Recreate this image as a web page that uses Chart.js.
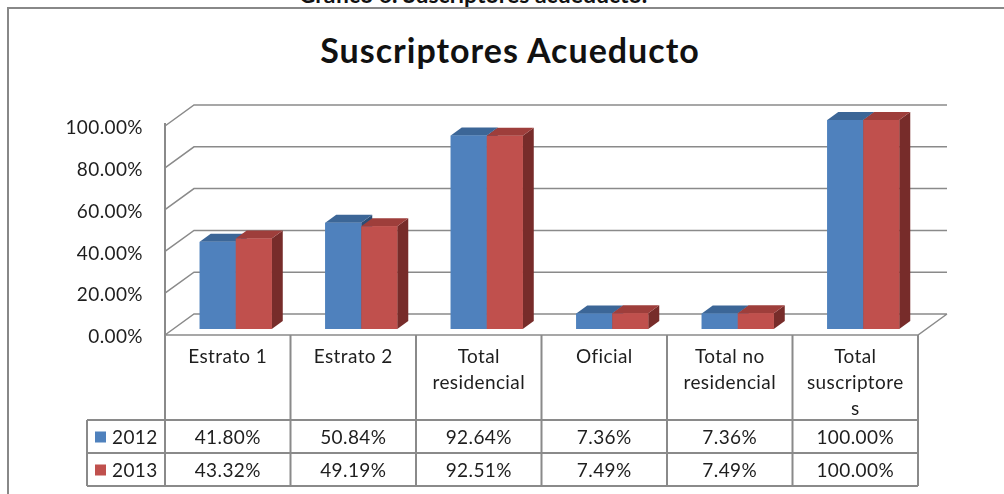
<!DOCTYPE html>
<html>
<head>
<meta charset="utf-8">
<title>Suscriptores Acueducto</title>
<script src="https://cdn.jsdelivr.net/npm/chart.js@4/dist/chart.umd.min.js"></script>
<style>
  html, body { margin: 0; padding: 0; background: #fff; overflow: hidden; }
  #wrap { position: relative; width: 1004px; height: 494px; overflow: hidden; }
  #frame { position: absolute; left: 7px; top: 7px; width: 1010px; height: 500px;
           border-top: 2px solid #888; border-left: 2px solid #888; }
  #caption { position: absolute; left: 0; width: 946px; top: -20px; line-height: 24px;
             text-align: center; font: bold 23px Lato, sans-serif; color: #111; }
  #title { position: absolute; left: 10px; width: 1000px; top: 29px; line-height: 40px;
           text-align: center; font: bold 34px Lato, sans-serif; letter-spacing: 1px; color: #111; }
  canvas { position: absolute; left: 0; top: 0; }
</style>
</head>
<body>
<div id="wrap">
  <div id="frame"></div>
  <div id="caption">Gráfico 6. Suscriptores acueducto.</div>
  <div id="title">Suscriptores Acueducto</div>
  <canvas id="chart" width="1004" height="494"></canvas>
</div>
<script>
const categories = [
  ['Estrato 1'],
  ['Estrato 2'],
  ['Total', 'residencial'],
  ['Oficial'],
  ['Total no', 'residencial'],
  ['Total', 'suscriptore', 's']
];
const seriesNames = ['2012', '2013'];
const values2012 = [41.80, 50.84, 92.64, 7.36, 7.36, 100.00];
const values2013 = [43.32, 49.19, 92.51, 7.49, 7.49, 100.00];
const yTicks = [0, 20, 40, 60, 80, 100];

const colors = [
  { front: '#4F81BD', top: '#3C6697', side: '#2C4D75' },
  { front: '#C0504D', top: '#9E3E3B', side: '#772C2A' }
];

// 3d offsets relative to the bar plane
const FRONT = [-8, 6];
const BACK = [21, -15];
const BAR = [11, -8];

const TEXT = '#1e1e1e';
const LINE = '#8a8a8a';
const FONT = '19px Lato, sans-serif';

function pct(v) { return v.toFixed(2) + '%'; }

function poly(ctx, pts, fill) {
  ctx.beginPath();
  ctx.moveTo(pts[0][0], pts[0][1]);
  for (let i = 1; i < pts.length; i++) ctx.lineTo(pts[i][0], pts[i][1]);
  ctx.closePath();
  ctx.fillStyle = fill;
  ctx.fill();
}

const walls = {
  id: 'walls',
  beforeDatasetsDraw(chart) {
    const ctx = chart.ctx;
    const a = chart.chartArea;
    const y = chart.scales.y;
    const x = chart.scales.x;
    const y0 = y.getPixelForValue(0);
    const yTop = y.getPixelForValue(yTicks[yTicks.length - 1]);

    ctx.save();
    ctx.strokeStyle = LINE;
    ctx.lineWidth = 1.5;

    // gridlines on side and back walls
    ctx.beginPath();
    yTicks.forEach(v => {
      const py = y.getPixelForValue(v);
      ctx.moveTo(a.left + FRONT[0], py + FRONT[1]);
      ctx.lineTo(a.left + BACK[0], py + BACK[1]);
      ctx.lineTo(a.right + BACK[0], py + BACK[1]);
    });
    // floor front and right edges
    ctx.moveTo(a.left + FRONT[0], y0 + FRONT[1]);
    ctx.lineTo(a.right + FRONT[0], y0 + FRONT[1]);
    ctx.lineTo(a.right + BACK[0], y0 + BACK[1]);
    ctx.stroke();

    ctx.letterSpacing = '0.4px';

    // y tick labels
    ctx.fillStyle = TEXT;
    ctx.font = FONT;
    ctx.textAlign = 'right';
    ctx.textBaseline = 'middle';
    yTicks.forEach(v => {
      ctx.fillText(pct(v), a.left + FRONT[0] - 22, y.getPixelForValue(v) + FRONT[1] + 2);
    });

    // data table
    const n = categories.length;
    const colW = (a.right - a.left) / n;
    const left = a.left + FRONT[0];
    const tTop = y0 + FRONT[1];
    const hBot = tTop + 85;
    const rowH = 33;
    const tBot = hBot + rowH * seriesNames.length;
    const legLeft = left - 78;
    const right = a.right + FRONT[0];

    ctx.lineWidth = 2;
    ctx.beginPath();
    ctx.moveTo(left, yTop + FRONT[1] - 3);
    ctx.lineTo(left, tBot);
    ctx.moveTo(legLeft, hBot);
    ctx.lineTo(right, hBot);
    for (let r = 1; r <= seriesNames.length; r++) {
      ctx.moveTo(legLeft, hBot + rowH * r);
      ctx.lineTo(right, hBot + rowH * r);
    }
    ctx.moveTo(legLeft, hBot);
    ctx.lineTo(legLeft, tBot);
    for (let i = 1; i <= n; i++) {
      const cx = left + colW * i;
      ctx.moveTo(cx, tTop);
      ctx.lineTo(cx, tBot);
    }
    ctx.stroke();

    ctx.textAlign = 'center';
    ctx.fillStyle = TEXT;
    categories.forEach((lines, i) => {
      const cx = x.getPixelForValue(i) + FRONT[0];
      lines.forEach((t, k) => ctx.fillText(t, cx, tTop + 22 + k * 26));
    });
    const series = [values2012, values2013];
    series.forEach((vals, r) => {
      const cy = hBot + rowH * r + rowH / 2 + 1;
      vals.forEach((v, i) => {
        ctx.fillText(pct(v), x.getPixelForValue(i) + FRONT[0], cy);
      });
      ctx.fillStyle = colors[r].front;
      ctx.fillRect(legLeft + 8, cy - 6, 11, 11);
      ctx.fillStyle = TEXT;
      ctx.textAlign = 'left';
      ctx.fillText(seriesNames[r], legLeft + 25, cy);
      ctx.textAlign = 'center';
    });
    ctx.restore();
  },
  // redraw every bar in series order with its side and top faces
  afterDatasetsDraw(chart) {
    const ctx = chart.ctx;
    ctx.save();
    chart.data.datasets.forEach((ds, i) => {
      const c = colors[i];
      chart.getDatasetMeta(i).data.forEach(bar => {
        const l = bar.x - bar.width / 2;
        const r = bar.x + bar.width / 2;
        const t = bar.y;
        const b = bar.base;
        poly(ctx, [[r, t], [r + BAR[0], t + BAR[1]], [r + BAR[0], b + BAR[1]], [r, b]], c.side);
        poly(ctx, [[l, t], [r, t], [r + BAR[0], t + BAR[1]], [l + BAR[0], t + BAR[1]]], c.top);
        bar.draw(ctx, chart.chartArea);
      });
    });
    ctx.restore();
  }
};

new Chart(document.getElementById('chart'), {
  type: 'bar',
  data: {
    labels: categories,
    datasets: [
      { label: seriesNames[0], data: values2012, backgroundColor: colors[0].front },
      { label: seriesNames[1], data: values2013, backgroundColor: colors[1].front }
    ]
  },
  options: {
    responsive: false,
    animation: false,
    layout: { padding: { left: 173, right: 78, top: 120, bottom: 165 } },
    datasets: { bar: { categoryPercentage: 0.574, barPercentage: 1, borderWidth: 0 } },
    scales: {
      x: { display: false },
      y: { display: false, min: 0, max: 100 }
    },
    plugins: { legend: { display: false }, tooltip: { enabled: false } }
  },
  plugins: [walls]
});
</script>
</body>
</html>
